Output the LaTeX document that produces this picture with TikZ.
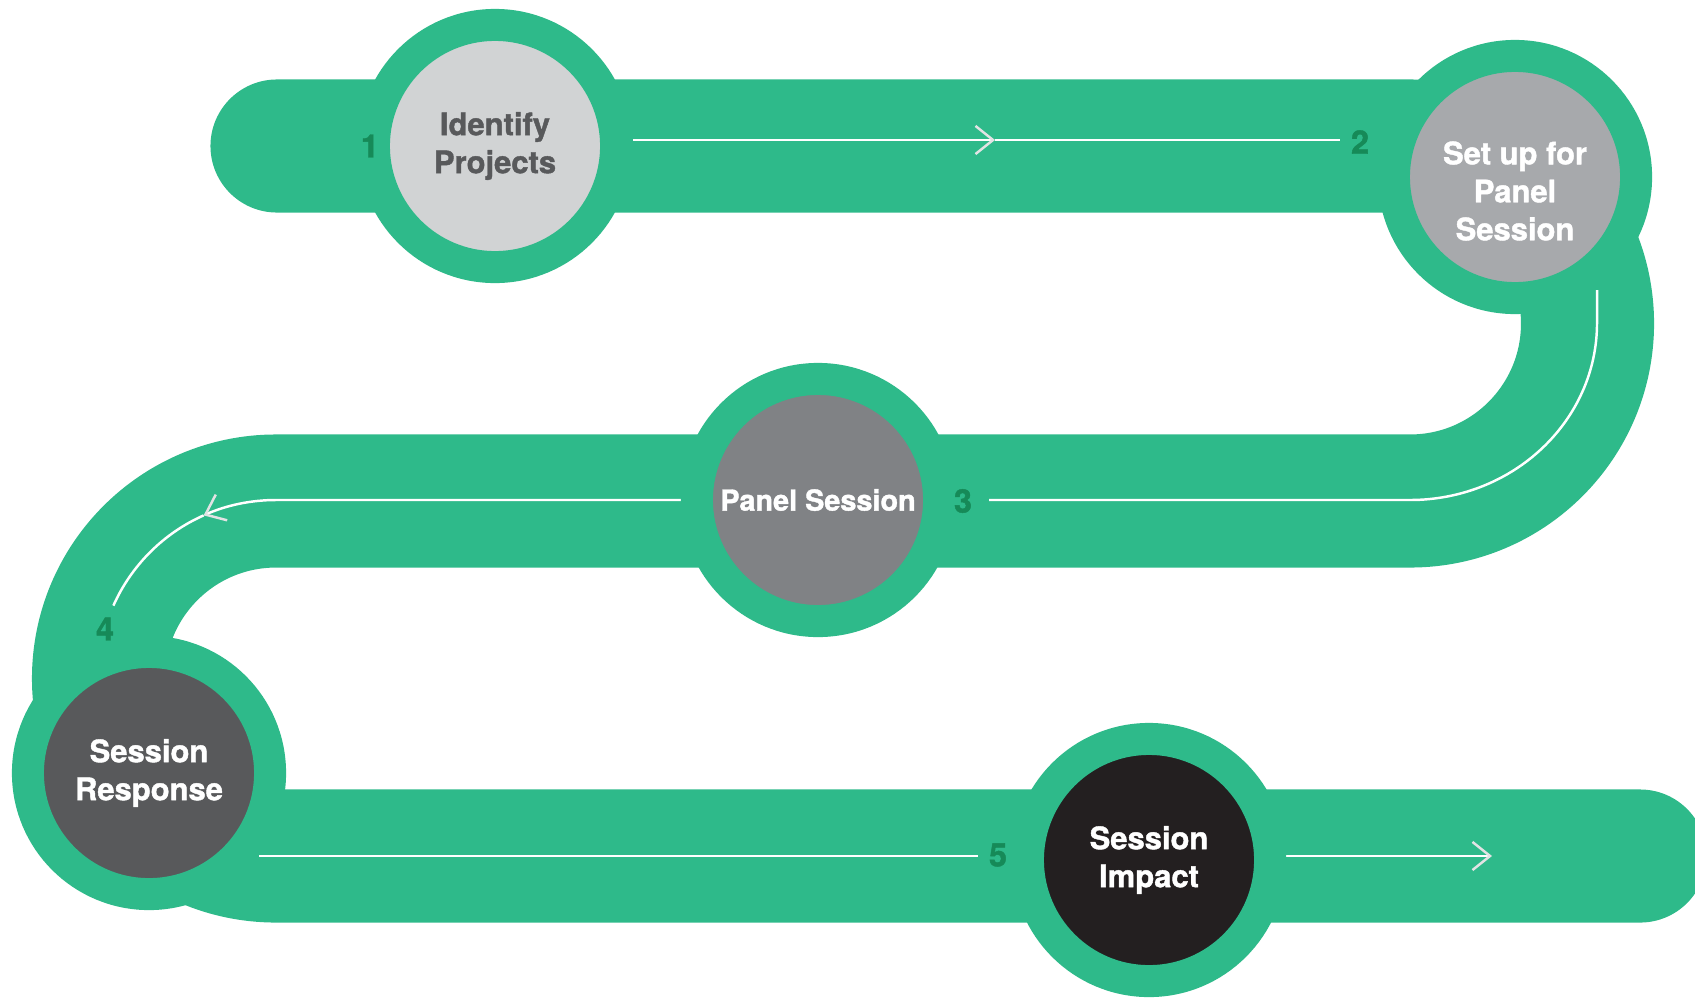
\documentclass[tikz,border=0pt]{standalone}
\usepackage{xcolor}
\usepackage{fontspec}
\setmainfont{TeX Gyre Heros}[BoldFeatures={FakeBold=1.3}]
\usepackage{tikz}
\usetikzlibrary{arrows.meta}

\definecolor{trackgreen}{HTML}{2EBA8A}
\definecolor{stepgreen}{HTML}{168A58}
\definecolor{greyA}{HTML}{D1D3D4}
\definecolor{greyB}{HTML}{A7A9AC}
\definecolor{greyC}{HTML}{808285}
\definecolor{greyD}{HTML}{58595B}
\definecolor{greyE}{HTML}{231F20}
\definecolor{tipgrey}{HTML}{E2E3E4}

\begin{document}
\begin{tikzpicture}[x=0.01cm,y=-0.01cm,
  stop/.style={circle,draw=trackgreen,line width=0.32cm,minimum size=2.42cm,
    inner sep=0pt,align=center,text=white,
    font=\fontsize{8.8}{10.8}\selectfont\bfseries},
  stoptext/.style={align=center,text=white,font=\fontsize{8.8}{10.8}\selectfont\bfseries},
  flow/.style={white,line width=0.7pt},
  tip/.style={-{Straight Barb[length=5pt,width=8pt,color=tipgrey]}},
  num/.style={text=stepgreen,font=\fontsize{9.2}{10}\selectfont\bfseries}]
%\draw[step=100,red,thin] (0,0) grid (1695,1000);
\useasboundingbox (0,0) rectangle (1695,1000);

% track
\draw[trackgreen,line width=1.33cm,line cap=round,line join=round]
  (277,146) -- (1410,146) arc[start angle=-90,end angle=90,radius=177.5]
  -- (276,501) arc[start angle=270,end angle=90,radius=177.5] -- (1640,856);

% flow lines
\coordinate (t1) at (633,140);
\coordinate (t2) at (995,140);
\coordinate (t3) at (1340,140);
\draw[flow,tip] (t1) -- (t2);
\draw[flow] (t2) -- (t3);

\coordinate (r1) at (1597,290);
\coordinate (r2) at (989,500);
\draw[flow] (r1) -- ++(0,33) arc[start angle=0,end angle=90,x radius=187,y radius=177] -- (r2);

\coordinate (m1) at (681,500);
\draw[flow,tip] (m1) -- (276,500) arc[start angle=-90,end angle=-114,radius=178] coordinate (m2);
\draw[flow] (m2) arc[start angle=-114,end angle=-156,radius=178];

\coordinate (b1) at (259,856);
\coordinate (b2) at (978,856);
\coordinate (b3) at (1286,856);
\coordinate (b4) at (1492,856);
\draw[flow] (b1) -- (b2);
\draw[flow,tip] (b3) -- (b4);

% stops
\node[stop,fill=greyA,text=greyD] (identify) at (495,146) {Identify\\Projects};
\node[stop,fill=greyB] (setup) at (1515,177) {};
\node[stoptext] (setuptext) at (1515,191) {Set up for\\Panel\\Session};
\node[stop,fill=greyC,font=\fontsize{8.2}{10}\selectfont\bfseries] (panel) at (818,500) {Panel Session};
\node[stop,fill=greyD] (response) at (149,773) {Session\\Response};
\node[stop,fill=greyE] (impact) at (1149,860) {Session\\Impact};

% numbers
\node[num] (n1) at (370,146) {1};
\node[num] (n2) at (1360,142) {2};
\node[num] (n3) at (963,501) {3};
\node[num] (n4) at (105,629) {4};
\node[num] (n5) at (998,855) {5};

\end{tikzpicture}
\end{document}
